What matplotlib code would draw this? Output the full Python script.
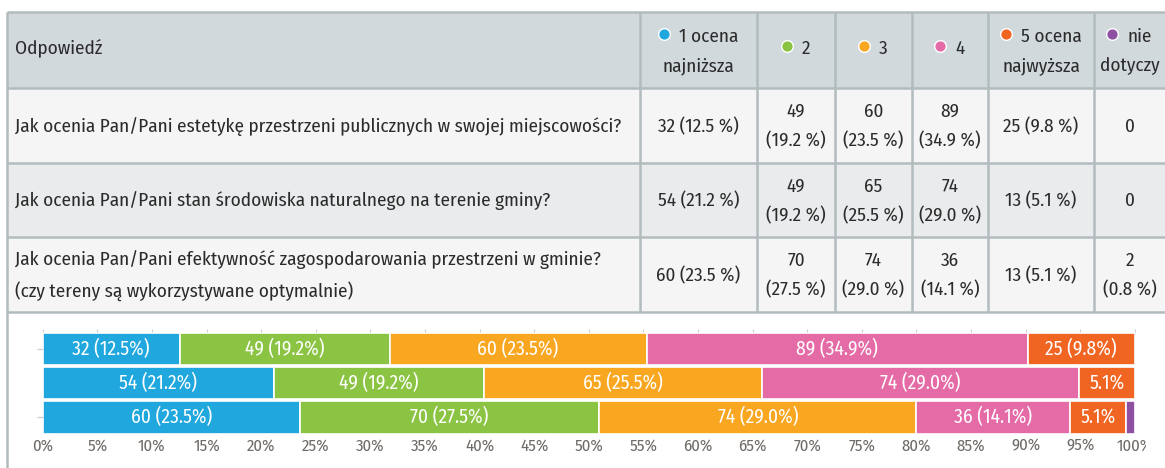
import numpy as np
import matplotlib.pyplot as plt
from matplotlib.transforms import Bbox, TransformedBbox

plt.rcParams['font.family'] = ['Fira Sans Condensed', 'DejaVu Sans']

questions = [
    "Jak ocenia Pan/Pani estetykę przestrzeni publicznych w swojej miejscowości?",
    "Jak ocenia Pan/Pani stan środowiska naturalnego na terenie gminy?",
    "Jak ocenia Pan/Pani efektywność zagospodarowania przestrzeni w gminie?\n(czy tereny są wykorzystywane optymalnie)",
]
answers = ["1 ocena\nnajniższa", "2", "3", "4", "5 ocena\nnajwyższa", "nie\ndotyczy"]
colors = ["#1fa7de", "#8bc443", "#f9a621", "#e56ba7", "#f16523", "#8e50a0"]

counts_q1 = [32, 49, 60, 89, 25, 0]
counts_q2 = [54, 49, 65, 74, 13, 0]
counts_q3 = [60, 70, 74, 36, 13, 2]
pct_q1 = [12.5, 19.2, 23.5, 34.9, 9.8, 0.0]
pct_q2 = [21.2, 19.2, 25.5, 29.0, 5.1, 0.0]
pct_q3 = [23.5, 27.5, 29.0, 14.1, 5.1, 0.8]

counts = [counts_q1, counts_q2, counts_q3]
pcts = [pct_q1, pct_q2, pct_q3]

# table geometry (pixels)
col_x = [7, 640, 757, 835, 912, 988, 1094, 1165]
row_y = [12, 88, 163, 237, 312]
wrap = [False, True, True, True, False, True]

W, H = 1165, 468
txt = "#2b2b2b"
fs = 13.8

fig = plt.figure(figsize=(W / 100, H / 100), dpi=100)
ax = fig.add_axes([0, 0, 1, 1])
ax.set_xlim(0, W)
ax.set_ylim(H, 0)
ax.axis("off")

# backgrounds
bgs = ["#d2d9dc", "#f5f5f5", "#e9ebec", "#f5f5f5"]
for i, bg in enumerate(bgs):
    ax.add_patch(plt.Rectangle((col_x[0], row_y[i]), col_x[-1] - col_x[0],
                               row_y[i + 1] - row_y[i], color=bg, lw=0))
lc = "#b2bcbf"
for y in row_y:
    ax.plot([col_x[0], col_x[-1]], [y, y], color=lc, lw=1.8, solid_capstyle="butt")
for x in col_x[:-1]:
    ax.plot([x, x], [row_y[0], row_y[-1]], color=lc, lw=1.8, solid_capstyle="butt")
# chart panel left border
ax.plot([col_x[0], col_x[0]], [row_y[-1], H], color=lc, lw=1.8)

# header
hy = (row_y[0] + row_y[1]) / 2
ax.text(col_x[0] + 8, hy - 2, "Odpowiedź", ha="left", va="center", fontsize=fs, color=txt)
first_lines = []
for i, a in enumerate(answers):
    cx = (col_x[i + 1] + col_x[i + 2]) / 2
    lines = a.split("\n")
    if len(lines) == 2:
        y1 = hy - 13
        ax.text(cx, hy + 16, lines[1], ha="center", va="center", fontsize=fs, color=txt)
    else:
        y1 = hy - 1
    t = ax.text(cx + 10, y1, lines[0], ha="center", va="center", fontsize=fs, color=txt)
    first_lines.append((t, y1, colors[i]))

# question column
for r, q in enumerate(questions):
    cy = (row_y[r + 1] + row_y[r + 2]) / 2
    ax.text(col_x[0] + 8, cy + 1, q, ha="left", va="center", fontsize=fs, color=txt,
            linespacing=1.75)

# value cells
for r in range(3):
    cy = (row_y[r + 1] + row_y[r + 2]) / 2
    for c in range(6):
        cx = (col_x[c + 1] + col_x[c + 2]) / 2
        n, p = counts[r][c], pcts[r][c]
        if n == 0:
            s = "0"
        else:
            s = f"{n}{chr(10) if wrap[c] else ' '}({p:.1f} %)"
        ax.text(cx, cy + 1, s, ha="center", va="center", fontsize=fs, color=txt,
                linespacing=1.75)

# bar chart
bax = fig.add_axes([42.7 / W, (H - 433.5) / H, 1092 / W, 101 / H])
for r in range(3):
    vals = np.array(counts[r], dtype=float)
    widths = vals / vals.sum() * 100
    left = 0
    for c in range(6):
        w = widths[c]
        if w > 0:
            bax.barh(r, w, left=left, height=0.95, color=colors[c],
                     edgecolor="white", linewidth=1.2)
            p = pcts[r][c]
            if p >= 9:
                lab = f"{counts[r][c]} ({p:.1f}%)"
            elif p >= 3:
                lab = f"{p:.1f}%"
            else:
                lab = ""
            if lab:
                bax.text(left + w / 2, r, lab, ha="center", va="center",
                         color="white", fontsize=14)
        left += w

bax.set_xlim(0, 100)
bax.set_ylim(2.475, -0.475)
ticks = np.arange(0, 101, 5)
bax.set_xticks(ticks)
bax.set_xticklabels([f"{t}%" for t in ticks])
bax.tick_params(axis="x", length=0, pad=3, labelsize=12, labelcolor="#6f6a66")
bax.set_yticks([0, 2])
bax.set_yticklabels([])
bax.tick_params(axis="y", length=4, color="#cfcfcf", width=1)
for s in bax.spines.values():
    s.set_visible(False)
top = bax.secondary_xaxis("top")
top.set_xticks(ticks)
top.set_xticklabels([])
top.tick_params(length=2, color="#cfcfcf")
for s in top.spines.values():
    s.set_visible(False)

# legend dots next to header labels
fig.canvas.draw()
for t, y1, col in first_lines:
    bb = t.get_window_extent()
    ax.scatter([bb.x0 - 15], [y1 - 3], s=70, color=col, edgecolor="white",
               linewidth=1, zorder=5)

# the panel cuts the last tick label
clip = TransformedBbox(Bbox([[0, 0], [1146, H]]), ax.transData)
for lab in bax.get_xticklabels():
    lab.set_clip_on(True)
    lab.set_clip_box(clip)

fig.savefig("out.png", dpi=100)
